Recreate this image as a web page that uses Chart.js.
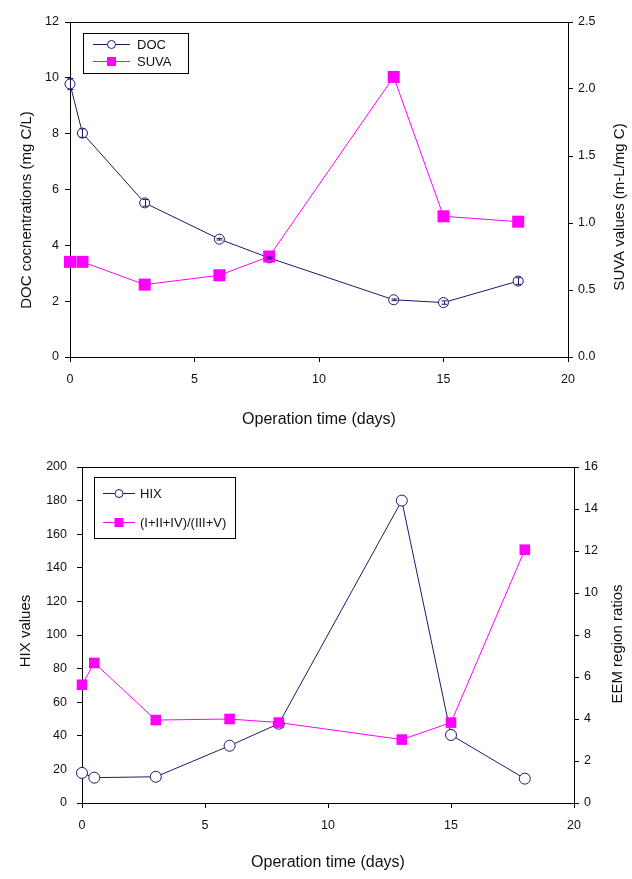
<!DOCTYPE html>
<html>
<head>
<meta charset="utf-8">
<script src="https://cdn.jsdelivr.net/npm/chart.js@4/dist/chart.umd.min.js"></script>
<style>
    body { margin: 0; background: #fff; }
    #wrap { position: relative; width: 632px; height: 879px; }
    #top { position: absolute; left: 0; top: 0; }
    #bottom { position: absolute; left: 0; top: 430px; }
</style>
</head>
<body>
<div id="wrap">
    <canvas id="top" width="632" height="430"></canvas>
    <canvas id="bottom" width="632" height="449"></canvas>
</div>
<script>
// operation time (days)
const days = [0, 0.5, 3, 6, 8, 13, 15, 18];

// top panel
const docValues = [9.78, 8.02, 5.52, 4.22, 3.55, 2.05, 1.95, 2.72];
const docErrors = [0.2, 0.15, 0.12, 0.03, 0.03, 0.03, 0.06, 0.12];
const suvaValues = [0.71, 0.71, 0.54, 0.61, 0.75, 2.09, 1.05, 1.01];

// bottom panel
const hixValues = [17.9, 15.1, 15.6, 34.1, 47.2, 180, 40.5, 14.5];
const eemValues = [5.63, 6.67, 3.95, 4.0, 3.83, 3.02, 3.83, 12.06];

const xTicks = [0, 5, 10, 15, 20];

const NAVY = '#1a1a6a';
const MAGENTA = '#ff00ff';
const FONT = 'Liberation Sans, Arial, sans-serif';

function pts(ys) {
    return days.map((d, i) => ({ x: d, y: ys[i] }));
}

// closes the frame along the top edge
const frameTop = {
    id: 'frameTop',
    afterDraw(chart) {
        const a = chart.chartArea;
        const ctx = chart.ctx;
        ctx.save();
        ctx.strokeStyle = '#000';
        ctx.lineWidth = 1;
        ctx.beginPath();
        ctx.moveTo(a.left, a.top + 0.5);
        ctx.lineTo(a.right, a.top + 0.5);
        ctx.stroke();
        ctx.restore();
    }
};

// small vertical error bars inside the circles
const errBars = {
    id: 'errBars',
    afterDatasetsDraw(chart, args, opts) {
        if (!opts.errors) return;
        const xs = chart.scales.x;
        const ys = chart.scales.y;
        const ctx = chart.ctx;
        ctx.save();
        ctx.strokeStyle = NAVY;
        ctx.lineWidth = 1;
        days.forEach((d, i) => {
            const px = Math.round(xs.getPixelForValue(d)) + 0.5;
            const v = opts.values[i];
            const y1 = ys.getPixelForValue(v + opts.errors[i]);
            const y2 = ys.getPixelForValue(v - opts.errors[i]);
            ctx.beginPath();
            ctx.moveTo(px, y1);
            ctx.lineTo(px, y2);
            ctx.moveTo(px - 3, y1);
            ctx.lineTo(px + 3, y1);
            ctx.moveTo(px - 3, y2);
            ctx.lineTo(px + 3, y2);
            ctx.stroke();
        });
        ctx.restore();
    }
};

// both y titles read bottom to top
const yTitles = {
    id: 'yTitles',
    afterDraw(chart, args, opts) {
        const ctx = chart.ctx;
        ctx.save();
        ctx.fillStyle = '#111';
        ctx.font = '15px ' + FONT;
        ctx.textAlign = 'center';
        ctx.textBaseline = 'middle';
        opts.items.forEach(t => {
            ctx.save();
            ctx.translate(t.x, t.y);
            ctx.rotate(-Math.PI / 2);
            ctx.fillText(t.text, 0, 0);
            ctx.restore();
        });
        ctx.restore();
    }
};

// boxed legend with a line and marker per series
const boxLegend = {
    id: 'boxLegend',
    afterDraw(chart, args, opts) {
        const a = chart.chartArea;
        const ctx = chart.ctx;
        const x0 = a.left + opts.dx;
        const y0 = a.top + opts.dy;
        ctx.save();
        ctx.strokeStyle = '#000';
        ctx.lineWidth = 1;
        ctx.strokeRect(x0 + 0.5, y0 + 0.5, opts.w, opts.h);
        ctx.font = '13px ' + FONT;
        ctx.textBaseline = 'middle';
        chart.data.datasets.forEach((ds, k) => {
            const y = Math.round(y0 + opts.rowY[k]) + 0.5;
            const lx1 = x0 + opts.lineX;
            const lx2 = lx1 + opts.lineLen;
            ctx.strokeStyle = ds.borderColor;
            ctx.beginPath();
            ctx.moveTo(lx1, y);
            ctx.lineTo(lx2, y);
            ctx.stroke();
            const mx = (lx1 + lx2) / 2;
            if (ds.pointStyle === 'rect') {
                ctx.fillStyle = ds.pointBackgroundColor;
                ctx.fillRect(mx - 4.5, y - 4.5, 9, 9);
            } else {
                ctx.fillStyle = '#fff';
                ctx.beginPath();
                ctx.arc(mx, y, 4, 0, Math.PI * 2);
                ctx.fill();
                ctx.strokeStyle = ds.pointBorderColor;
                ctx.stroke();
            }
            ctx.fillStyle = '#111';
            ctx.fillText(ds.label, lx2 + opts.gap, y + 1);
        });
        ctx.restore();
    }
};

function makeChart(id, cfg) {
    const tickFont = { family: FONT, size: 12.5 };
    return new Chart(document.getElementById(id), {
        type: 'line',
        data: {
            datasets: [
                {
                    label: cfg.names[0],
                    data: pts(cfg.left),
                    yAxisID: 'y',
                    borderColor: NAVY,
                    borderWidth: 1,
                    pointStyle: 'circle',
                    pointRadius: cfg.circ,
                    pointBorderWidth: 1,
                    pointBackgroundColor: '#fff',
                    pointBorderColor: NAVY,
                    clip: false,
                    order: 2
                },
                {
                    label: cfg.names[1],
                    data: pts(cfg.right),
                    yAxisID: 'y2',
                    borderColor: MAGENTA,
                    borderWidth: 1,
                    pointStyle: 'rect',
                    pointRadius: cfg.sq,
                    pointBorderWidth: 0,
                    pointBackgroundColor: MAGENTA,
                    pointBorderColor: MAGENTA,
                    clip: false,
                    order: 1
                }
            ]
        },
        options: {
            responsive: false,
            animation: false,
            layout: { padding: { top: cfg.top, left: 0, right: 0, bottom: 0 } },
            plugins: {
                legend: { display: false },
                tooltip: { enabled: false },
                boxLegend: cfg.legend,
                yTitles: { items: cfg.yTitles },
                errBars: cfg.err || {}
            },
            scales: {
                x: {
                    type: 'linear',
                    min: 0, max: 20,
                    afterBuildTicks: s => { s.ticks = xTicks.map(v => ({ value: v })); },
                    afterFit: s => { s.height = cfg.xH; },
                    border: { color: '#000', width: 1 },
                    grid: { drawOnChartArea: false, color: '#000', tickLength: 5 },
                    ticks: { color: '#111', font: tickFont, padding: 10, maxRotation: 0 },
                    title: { display: true, text: 'Operation time (days)', color: '#111',
                        font: { family: FONT, size: 16 }, padding: { top: 0, bottom: cfg.xTitlePad } }
                },
                y: {
                    position: 'left',
                    min: 0, max: cfg.lMax,
                    ticks: { stepSize: cfg.lStep, color: '#111', font: tickFont, padding: cfg.lPad },
                    afterFit: s => { s.width = cfg.lW; },
                    border: { color: '#000', width: 1 },
                    grid: { drawOnChartArea: false, color: '#000', tickLength: 5 }
                },
                y2: {
                    position: 'right',
                    min: 0, max: cfg.rMax,
                    ticks: { stepSize: cfg.rStep, color: '#111', font: tickFont, padding: 5,
                        callback: v => cfg.rFixed ? v.toFixed(1) : v },
                    afterFit: s => { s.width = cfg.rW; },
                    border: { color: '#000', width: 1 },
                    grid: { drawOnChartArea: false, color: '#000', tickLength: 5 }
                }
            }
        },
        plugins: [frameTop, errBars, boxLegend, yTitles]
    });
}

makeChart('top', {
    names: ['DOC', 'SUVA'],
    left: docValues,
    right: suvaValues,
    err: { values: docValues, errors: docErrors },
    circ: 5,
    sq: 8.5,
    top: 22,
    xH: 73,
    lW: 70,
    rW: 64,
    lMax: 12, lStep: 2, lPad: 6,
    rMax: 2.5, rStep: 0.5, rFixed: true,
    yTitles: [
        { text: 'DOC cocnentrations (mg C/L)', x: 26.5, y: 210 },
        { text: 'SUVA values (m-L/mg C)', x: 620, y: 207 }
    ],
    xTitlePad: 0.5,
    legend: { dx: 13, dy: 11, w: 105, h: 40, lineX: 10, lineLen: 37, gap: 7, rowY: [10.7, 28] }
});

makeChart('bottom', {
    names: ['HIX', '(I+II+IV)/(III+V)'],
    left: hixValues,
    right: eemValues,
    circ: 5.5,
    sq: 7.5,
    top: 37,
    xH: 76,
    lW: 82,
    rW: 58,
    lMax: 200, lStep: 20, lPad: 10,
    rMax: 16, rStep: 2, rFixed: false,
    yTitles: [
        { text: 'HIX values', x: 26, y: 201 },
        { text: 'EEM region ratios', x: 618, y: 214 }
    ],
    xTitlePad: 6.5,
    legend: { dx: 12, dy: 10, w: 141, h: 61, lineX: 9, lineLen: 32, gap: 5, rowY: [16, 45] }
});
</script>
</body>
</html>
